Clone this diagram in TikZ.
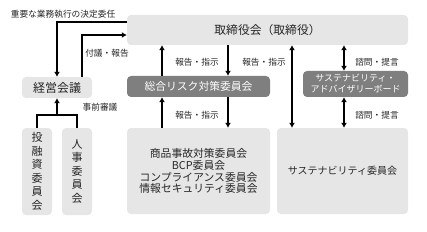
\documentclass[tikz,border=0pt]{standalone}
\usepackage{fontspec}
\setmainfont{Noto Sans CJK JP}
\usetikzlibrary{arrows.meta}

\definecolor{boxgray}{HTML}{E6E6E6}
\definecolor{darkgray}{HTML}{7F7F7F}
\definecolor{txtgray}{HTML}{262626}

\tikzset{
  lbox/.style={fill=boxgray, rounded corners=4pt, inner sep=0pt, text=txtgray, align=center},
  dbox/.style={fill=darkgray, rounded corners=4pt, inner sep=0pt, text=white, align=center},
  lab/.style={inner sep=0pt, text=txtgray, font=\fontsize{8.7}{10}\selectfont},
  link/.style={line width=2pt},
  arr/.style={line width=2pt, -{Latex[length=5pt,width=6pt]}},
  darr/.style={line width=2pt, {Latex[length=5pt,width=6pt]}-{Latex[length=5pt,width=6pt]}}
}

\begin{document}
\begin{tikzpicture}[x=1pt,y=-1pt]

\useasboundingbox (0,0) rectangle (427,232);

% boxes
\node[lbox, minimum width=281, minimum height=30, font=\fontsize{11.8}{13}\selectfont] (board) at (267.5,30) {取締役会（取締役）};
\node[lbox, minimum width=70, minimum height=21, font=\fontsize{12}{13}\selectfont] (keiei) at (57,87.5) {経営会議};
\node[dbox, minimum width=143, minimum height=21, font=\fontsize{10.8}{12}\selectfont] (risk) at (198.5,86.5) {総合リスク対策委員会};
\node[dbox, minimum width=105, minimum height=26, font=\fontsize{9}{11}\selectfont] (advisory) at (355.5,84) {サステナビリティ・\\アドバイザリーボード};
\node[lbox, minimum width=30, minimum height=87, font=\fontsize{11}{13.5}\selectfont] (toyushi) at (37,171.5) {投\\融\\資\\委\\員\\会};
\node[lbox, minimum width=30, minimum height=87, font=\fontsize{11}{13.5}\selectfont] (jinji) at (77,171.5) {人\\事\\委\\員\\会};
\node[lbox, minimum width=143, minimum height=86, font=\fontsize{10.8}{11.8}\selectfont] (iinkai) at (198.5,171) {商品事故対策委員会\\BCP委員会\\コンプライアンス委員会\\情報セキュリティ委員会};
\node[lbox, minimum width=131, minimum height=86, font=\fontsize{10}{12}\selectfont] (sust) at (342.5,171) {サステナビリティ委員会};

% keiei kaigi
\draw[arr] (board.west |- 0,22) -| (keiei.north);
\draw[arr] ([xshift=25pt]keiei.north) |- (board.west |- 0,35);
\draw[link] (toyushi.north) -- ++(0,-13) -| (jinji.north);
\draw[arr] (keiei.south |- 0,115) -- (keiei.south);

% risk
\draw[arr] (iinkai.north -| 162,0) -- (risk.south -| 162,0);
\draw[arr] (risk.north -| 162,0) -- (board.south -| 162,0);
\draw[arr] (board.south -| 228,0) -- (risk.north -| 228,0);
\draw[arr] (risk.south -| 228,0) -- (iinkai.north -| 228,0);

% sustainability
\draw[darr] (board.south -| 292,0) -- (sust.north -| 292,0);
\draw[darr] (board.south -| 344,0) -- (advisory.north -| 344,0);
\draw[darr] (advisory.south -| 344,0) -- (sust.north -| 344,0);

% labels
\node[lab] (l1) at (63,14) {重要な業務執行の決定委任};
\node[lab] (l2) at (107,53) {付議・報告};
\node[lab] (l3) at (100,107) {事前審議};
\node[lab] (l4) at (197,62) {報告・指示};
\node[lab] (l5) at (197,115) {報告・指示};
\node[lab] (l6) at (264,62) {報告・指示};
\node[lab] (l7) at (377,62) {諮問・提言};
\node[lab] (l8) at (377,115) {諮問・提言};

\end{tikzpicture}
\end{document}
